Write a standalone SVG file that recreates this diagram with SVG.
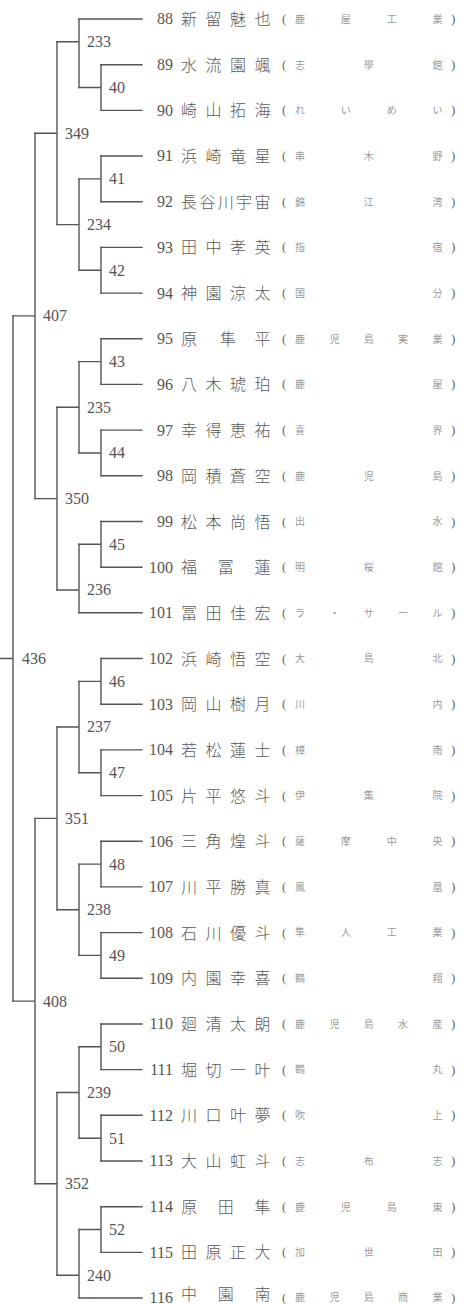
<svg xmlns="http://www.w3.org/2000/svg" width="473" height="1304" viewBox="0 0 473 1304">
<style>
.bg{fill:#fff}
.c path{fill:none;stroke:#555;stroke-width:1.4;stroke-linecap:square}
.n{font-family:"Liberation Serif","DejaVu Serif",serif;font-size:16px;fill:#555}
.r{text-anchor:end}
.j{font-family:"Noto Sans CJK JP","Noto Sans CJK SC",sans-serif;font-size:16px;font-weight:300;fill:#5a5a5a;text-anchor:middle}
.p{font-family:"Liberation Serif",serif;font-size:13px;fill:#666}
.s{font-family:"Noto Sans CJK JP","Noto Sans CJK SC",sans-serif;font-size:10px;fill:#9a9a9a;text-anchor:middle}
</style>
<rect class="bg" width="473" height="1304"/>
<g id="connectors" class="c">
<path d="M79 19H142M101 64.7H142M101 110.4H142M101 156H142M101 201.7H142M101 247.4H142M101 293.1H142M101 338.8H142M101 384.4H142M101 430.1H142M101 475.8H142M101 521.5H142M101 567.2H142M79 612.8H142M101 658.5H142M101 704.2H142M101 749.9H142M101 795.6H142M101 841.2H142M101 886.9H142M101 932.6H142M101 978.3H142M101 1024H142M101 1069.6H142M101 1115.3H142M101 1161H142M101 1206.7H142M101 1252.4H142M79 1298H142"/>
<path d="M101 64.7V110.4M79 87.5H101"/>
<path d="M101 156V201.7M79 178.9H101"/>
<path d="M101 247.4V293.1M79 270.2H101"/>
<path d="M101 338.8V384.4M79 361.6H101"/>
<path d="M101 430.1V475.8M79 453H101"/>
<path d="M101 521.5V567.2M79 544.3H101"/>
<path d="M101 658.5V704.2M79 681.4H101"/>
<path d="M101 749.9V795.6M79 772.7H101"/>
<path d="M101 841.2V886.9M79 864.1H101"/>
<path d="M101 932.6V978.3M79 955.4H101"/>
<path d="M101 1024V1069.6M79 1046.8H101"/>
<path d="M101 1115.3V1161M79 1138.2H101"/>
<path d="M101 1206.7V1252.4M79 1229.5H101"/>
<path d="M79 19V87.5M57 41.8H79"/>
<path d="M79 178.9V270.2M57 224.6H79"/>
<path d="M79 361.6V453M57 407.3H79"/>
<path d="M79 544.3V612.8M57 590H79"/>
<path d="M79 681.4V772.7M57 727H79"/>
<path d="M79 864.1V955.4M57 909.8H79"/>
<path d="M79 1046.8V1138.2M57 1092.5H79"/>
<path d="M79 1229.5V1298M57 1275.2H79"/>
<path d="M57 41.8V224.6M35 133.2H57"/>
<path d="M57 407.3V590M35 498.6H57"/>
<path d="M57 727V909.8M35 818.4H57"/>
<path d="M57 1092.5V1275.2M35 1183.8H57"/>
<path d="M35 133.2V498.6M13 315.9H35"/>
<path d="M35 818.4V1183.8M13 1001.1H35"/>
<path d="M13 315.9V1001.1M0 658.5H13"/>
</g>
<g id="m40"><text class="n" x="109" y="92.9">40</text></g>
<g id="m41"><text class="n" x="109" y="184.3">41</text></g>
<g id="m42"><text class="n" x="109" y="275.6">42</text></g>
<g id="m43"><text class="n" x="109" y="367">43</text></g>
<g id="m44"><text class="n" x="109" y="458.4">44</text></g>
<g id="m45"><text class="n" x="109" y="549.7">45</text></g>
<g id="m46"><text class="n" x="109" y="686.8">46</text></g>
<g id="m47"><text class="n" x="109" y="778.1">47</text></g>
<g id="m48"><text class="n" x="109" y="869.5">48</text></g>
<g id="m49"><text class="n" x="109" y="960.8">49</text></g>
<g id="m50"><text class="n" x="109" y="1052.2">50</text></g>
<g id="m51"><text class="n" x="109" y="1143.6">51</text></g>
<g id="m52"><text class="n" x="109" y="1234.9">52</text></g>
<g id="m233"><text class="n" x="87" y="47.2">233</text></g>
<g id="m234"><text class="n" x="87" y="230">234</text></g>
<g id="m235"><text class="n" x="87" y="412.7">235</text></g>
<g id="m236"><text class="n" x="87" y="595.4">236</text></g>
<g id="m237"><text class="n" x="87" y="732.4">237</text></g>
<g id="m238"><text class="n" x="87" y="915.2">238</text></g>
<g id="m239"><text class="n" x="87" y="1097.9">239</text></g>
<g id="m240"><text class="n" x="87" y="1280.6">240</text></g>
<g id="m349"><text class="n" x="65" y="138.6">349</text></g>
<g id="m350"><text class="n" x="65" y="504">350</text></g>
<g id="m351"><text class="n" x="65" y="823.8">351</text></g>
<g id="m352"><text class="n" x="65" y="1189.2">352</text></g>
<g id="m407"><text class="n" x="43" y="321.3">407</text></g>
<g id="m408"><text class="n" x="43" y="1006.5">408</text></g>
<g id="m436"><text class="n" x="22" y="663.9">436</text></g>

<g id="p88" transform="translate(0,19)"><text class="n r" x="173" y="5.4">88</text><text class="j" x="189 213.5 238 262.5" y="6">新留魅也</text><text class="p" x="282" y="4">(</text><text class="s" x="300 345.8 391.7 437.5" y="3.8">鹿屋工業</text><text class="p" x="451" y="4">)</text></g>
<g id="p89" transform="translate(0,64.7)"><text class="n r" x="173" y="5.4">89</text><text class="j" x="189 213.5 238 262.5" y="6">水流園颯</text><text class="p" x="282" y="4">(</text><text class="s" x="300 368.75 437.5" y="3.8">志學館</text><text class="p" x="451" y="4">)</text></g>
<g id="p90" transform="translate(0,110.4)"><text class="n r" x="173" y="5.4">90</text><text class="j" x="189 213.5 238 262.5" y="6">崎山拓海</text><text class="p" x="282" y="4">(</text><text class="s" x="300 345.8 391.7 437.5" y="3.8">れいめい</text><text class="p" x="451" y="4">)</text></g>
<g id="p91" transform="translate(0,156)"><text class="n r" x="173" y="5.4">91</text><text class="j" x="189 213.5 238 262.5" y="6">浜崎竜星</text><text class="p" x="282" y="4">(</text><text class="s" x="300 368.75 437.5" y="3.8">串木野</text><text class="p" x="451" y="4">)</text></g>
<g id="p92" transform="translate(0,201.7)"><text class="n r" x="173" y="5.4">92</text><text class="j" x="189 207.4 225.75 244.1 262.5" y="6">長谷川宇宙</text><text class="p" x="282" y="4">(</text><text class="s" x="300 368.75 437.5" y="3.8">錦江湾</text><text class="p" x="451" y="4">)</text></g>
<g id="p93" transform="translate(0,247.4)"><text class="n r" x="173" y="5.4">93</text><text class="j" x="189 213.5 238 262.5" y="6">田中孝英</text><text class="p" x="282" y="4">(</text><text class="s" x="300 437.5" y="3.8">指宿</text><text class="p" x="451" y="4">)</text></g>
<g id="p94" transform="translate(0,293.1)"><text class="n r" x="173" y="5.4">94</text><text class="j" x="189 213.5 238 262.5" y="6">神園涼太</text><text class="p" x="282" y="4">(</text><text class="s" x="300 437.5" y="3.8">国分</text><text class="p" x="451" y="4">)</text></g>
<g id="p95" transform="translate(0,338.8)"><text class="n r" x="173" y="5.4">95</text><text class="j" x="189 228 262.5" y="6">原隼平</text><text class="p" x="282" y="4">(</text><text class="s" x="300 334.4 368.75 403.1 437.5" y="3.8">鹿児島実業</text><text class="p" x="451" y="4">)</text></g>
<g id="p96" transform="translate(0,384.4)"><text class="n r" x="173" y="5.4">96</text><text class="j" x="189 213.5 238 262.5" y="6">八木琥珀</text><text class="p" x="282" y="4">(</text><text class="s" x="300 437.5" y="3.8">鹿屋</text><text class="p" x="451" y="4">)</text></g>
<g id="p97" transform="translate(0,430.1)"><text class="n r" x="173" y="5.4">97</text><text class="j" x="189 213.5 238 262.5" y="6">幸得恵祐</text><text class="p" x="282" y="4">(</text><text class="s" x="300 437.5" y="3.8">喜界</text><text class="p" x="451" y="4">)</text></g>
<g id="p98" transform="translate(0,475.8)"><text class="n r" x="173" y="5.4">98</text><text class="j" x="189 213.5 238 262.5" y="6">岡積蒼空</text><text class="p" x="282" y="4">(</text><text class="s" x="300 368.75 437.5" y="3.8">鹿児島</text><text class="p" x="451" y="4">)</text></g>
<g id="p99" transform="translate(0,521.5)"><text class="n r" x="173" y="5.4">99</text><text class="j" x="189 213.5 238 262.5" y="6">松本尚悟</text><text class="p" x="282" y="4">(</text><text class="s" x="300 437.5" y="3.8">出水</text><text class="p" x="451" y="4">)</text></g>
<g id="p100" transform="translate(0,567.2)"><text class="n r" x="173" y="5.4">100</text><text class="j" x="189 225.75 262.5" y="6">福冨蓮</text><text class="p" x="282" y="4">(</text><text class="s" x="300 368.75 437.5" y="3.8">明桜館</text><text class="p" x="451" y="4">)</text></g>
<g id="p101" transform="translate(0,612.8)"><text class="n r" x="173" y="5.4">101</text><text class="j" x="189 213.5 238 262.5" y="6">冨田佳宏</text><text class="p" x="282" y="4">(</text><text class="s" x="300 334.4 368.75 403.1 437.5" y="3.8">ラ・サール</text><text class="p" x="451" y="4">)</text></g>
<g id="p102" transform="translate(0,658.5)"><text class="n r" x="173" y="5.4">102</text><text class="j" x="189 213.5 238 262.5" y="6">浜崎悟空</text><text class="p" x="282" y="4">(</text><text class="s" x="300 368.75 437.5" y="3.8">大島北</text><text class="p" x="451" y="4">)</text></g>
<g id="p103" transform="translate(0,704.2)"><text class="n r" x="173" y="5.4">103</text><text class="j" x="189 213.5 238 262.5" y="6">岡山樹月</text><text class="p" x="282" y="4">(</text><text class="s" x="300 437.5" y="3.8">川内</text><text class="p" x="451" y="4">)</text></g>
<g id="p104" transform="translate(0,749.9)"><text class="n r" x="173" y="5.4">104</text><text class="j" x="189 213.5 238 262.5" y="6">若松蓮士</text><text class="p" x="282" y="4">(</text><text class="s" x="300 437.5" y="3.8">樟南</text><text class="p" x="451" y="4">)</text></g>
<g id="p105" transform="translate(0,795.6)"><text class="n r" x="173" y="5.4">105</text><text class="j" x="189 213.5 238 262.5" y="6">片平悠斗</text><text class="p" x="282" y="4">(</text><text class="s" x="300 368.75 437.5" y="3.8">伊集院</text><text class="p" x="451" y="4">)</text></g>
<g id="p106" transform="translate(0,841.2)"><text class="n r" x="173" y="5.4">106</text><text class="j" x="189 213.5 238 262.5" y="6">三角煌斗</text><text class="p" x="282" y="4">(</text><text class="s" x="300 345.8 391.7 437.5" y="3.8">薩摩中央</text><text class="p" x="451" y="4">)</text></g>
<g id="p107" transform="translate(0,886.9)"><text class="n r" x="173" y="5.4">107</text><text class="j" x="189 213.5 238 262.5" y="6">川平勝真</text><text class="p" x="282" y="4">(</text><text class="s" x="300 437.5" y="3.8">鳳凰</text><text class="p" x="451" y="4">)</text></g>
<g id="p108" transform="translate(0,932.6)"><text class="n r" x="173" y="5.4">108</text><text class="j" x="189 213.5 238 262.5" y="6">石川優斗</text><text class="p" x="282" y="4">(</text><text class="s" x="300 345.8 391.7 437.5" y="3.8">隼人工業</text><text class="p" x="451" y="4">)</text></g>
<g id="p109" transform="translate(0,978.3)"><text class="n r" x="173" y="5.4">109</text><text class="j" x="189 213.5 238 262.5" y="6">内園幸喜</text><text class="p" x="282" y="4">(</text><text class="s" x="300 437.5" y="3.8">鶴翔</text><text class="p" x="451" y="4">)</text></g>
<g id="p110" transform="translate(0,1024)"><text class="n r" x="173" y="5.4">110</text><text class="j" x="189 213.5 238 262.5" y="6">廻清太朗</text><text class="p" x="282" y="4">(</text><text class="s" x="300 334.4 368.75 403.1 437.5" y="3.8">鹿児島水産</text><text class="p" x="451" y="4">)</text></g>
<g id="p111" transform="translate(0,1069.6)"><text class="n r" x="173" y="5.4">111</text><text class="j" x="189 213.5 238 262.5" y="6">堀切一叶</text><text class="p" x="282" y="4">(</text><text class="s" x="300 437.5" y="3.8">鶴丸</text><text class="p" x="451" y="4">)</text></g>
<g id="p112" transform="translate(0,1115.3)"><text class="n r" x="173" y="5.4">112</text><text class="j" x="189 213.5 238 262.5" y="6">川口叶夢</text><text class="p" x="282" y="4">(</text><text class="s" x="300 437.5" y="3.8">吹上</text><text class="p" x="451" y="4">)</text></g>
<g id="p113" transform="translate(0,1161)"><text class="n r" x="173" y="5.4">113</text><text class="j" x="189 213.5 238 262.5" y="6">大山虹斗</text><text class="p" x="282" y="4">(</text><text class="s" x="300 368.75 437.5" y="3.8">志布志</text><text class="p" x="451" y="4">)</text></g>
<g id="p114" transform="translate(0,1206.7)"><text class="n r" x="173" y="5.4">114</text><text class="j" x="189 225.75 262.5" y="6">原田隼</text><text class="p" x="282" y="4">(</text><text class="s" x="300 345.8 391.7 437.5" y="3.8">鹿児島東</text><text class="p" x="451" y="4">)</text></g>
<g id="p115" transform="translate(0,1252.4)"><text class="n r" x="173" y="5.4">115</text><text class="j" x="189 213.5 238 262.5" y="6">田原正大</text><text class="p" x="282" y="4">(</text><text class="s" x="300 368.75 437.5" y="3.8">加世田</text><text class="p" x="451" y="4">)</text></g>
<g id="p116" transform="translate(0,1298)"><text class="n r" x="173" y="4.5">116</text><text class="j" x="189 225.75 262.5" y="2">中園南</text><text class="p" x="282" y="3.5">(</text><text class="s" x="300 334.4 368.75 403.1 437.5" y="3">鹿児島商業</text><text class="p" x="451" y="3.5">)</text></g>
</svg>
